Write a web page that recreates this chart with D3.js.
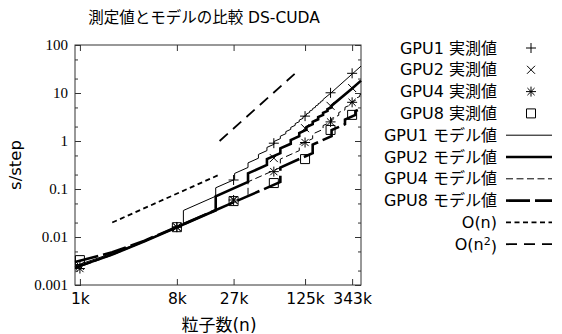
<!DOCTYPE html>
<html><head><meta charset="utf-8">
<script src="https://cdn.jsdelivr.net/npm/d3@7"></script>
<style>
body{margin:0;background:#fff;}
svg{display:block;}
</style></head><body>
<svg id="c" width="562" height="334"></svg>
<script>
// ---- data ----
const titleText = "測定値とモデルの比較 DS-CUDA";
const xLabel = "粒子数(n)";
const yLabel = "s/step";
const xTickValues = [1000, 8000, 27000, 125000, 343000];
const xTickLabels = ["1k", "8k", "27k", "125k", "343k"];
const yTickValues = [0.001, 0.01, 0.1, 1, 10, 100];
const yTickLabels = ["0.001", "0.01", "0.1", "1", "10", "100"];

// measured (n, s/step)
const nMeasured   = [1000, 8000, 27000, 64000, 125000, 216000, 343000];
const gpu1Measured = [0.0026, 0.0162, 0.154, 0.90, 3.3, 10.1, 25.7];
const gpu2Measured = [0.0025, 0.0160, 0.059, 0.44, 1.85, 5.4, 12.7];
const gpu4Measured = [0.0022, 0.0160, 0.059, 0.23, 0.93, 2.5, 6.4];
const gpu8Measured = [0.0033, 0.0160, 0.056, 0.133, 0.42, 1.7, 3.5];

// model curves (n in thousands, s/step); repeated n = step
const gpu1ModelN = [0.9, 2, 4, 8, 9.2, 9.2, 18.4, 18.4, 27.6, 27.6, 36.8, 36.8, 46, 46, 55.2, 55.2, 64.4, 64.4,
  73.6, 73.6, 82.8, 82.8, 92, 92, 101.2, 101.2, 110.4, 110.4, 119.6, 119.6, 128.8, 128.8, 138, 138,
  147.2, 147.2, 156.4, 156.4, 165.6, 165.6, 174.8, 174.8, 184, 184, 216, 343, 415];
const gpu1ModelT = [0.0025, 0.0046, 0.0084, 0.0160, 0.0183, 0.0357, 0.0707, 0.106, 0.158, 0.211, 0.281, 0.350, 0.438, 0.525, 0.630, 0.735, 0.857, 0.980,
  1.12, 1.26, 1.42, 1.57, 1.75, 1.92, 2.12, 2.31, 2.52, 2.73, 2.96, 3.18, 3.43, 3.67, 3.93, 4.20,
  4.48, 4.75, 5.05, 5.35, 5.66, 5.98, 6.31, 6.64, 6.99, 7.34, 9.85, 24.8, 36.3];

const gpu2ModelN = [0.9, 2, 4, 8, 18.4, 18.4, 36.8, 36.8, 55.2, 55.2, 73.6, 73.6, 92, 92, 110.4, 110.4, 128.8, 128.8,
  147.2, 147.2, 165.6, 165.6, 184, 184, 202.4, 202.4, 220.8, 220.8, 343, 415];
const gpu2ModelT = [0.0023, 0.0043, 0.0081, 0.0160, 0.0360, 0.0707, 0.141, 0.211, 0.316, 0.421, 0.560, 0.700, 0.875, 1.05, 1.26, 1.47, 1.72, 1.96,
  2.24, 2.52, 2.83, 3.15, 3.50, 3.85, 4.23, 4.62, 5.03, 5.45, 12.4, 18.1];

const gpu4ModelN = [0.9, 2, 4, 8, 36.8, 36.8, 73.6, 73.6, 110.4, 110.4, 147.2, 147.2, 184, 184, 220.8, 220.8,
  257.6, 257.6, 294.4, 294.4, 331.2, 331.2, 368, 368, 404.8, 404.8, 415];
const gpu4ModelT = [0.0022, 0.0042, 0.0080, 0.0160, 0.0707, 0.141, 0.280, 0.420, 0.630, 0.840, 1.12, 1.40, 1.75, 2.10, 2.52, 2.94,
  3.43, 3.92, 4.47, 5.03, 5.66, 6.29, 6.99, 7.69, 8.46, 9.23, 9.46];

const gpu8ModelN = [0.9, 2, 4, 8, 73.6, 73.6, 147.2, 147.2, 220.8, 220.8, 294.4, 294.4, 368, 368, 415];
const gpu8ModelT = [0.0030, 0.0048, 0.0084, 0.0162, 0.140, 0.280, 0.560, 0.840, 1.26, 1.68, 2.24, 2.80, 3.50, 4.20, 4.73];

const orderN = [2000, 20000];
const orderNT = [0.02, 0.2];
const orderN2 = [20000, 100000];
const orderN2T = [1, 25];

const legendLabels = ["GPU1 実測値", "GPU2 実測値", "GPU4 実測値", "GPU8 実測値",
  "GPU1 モデル値", "GPU2 モデル値", "GPU4 モデル値", "GPU8 モデル値", "O(n)", "O(n²)"];

// ---- drawing ----
const svg = d3.select("#c");
const L = 75, R = 361, T = 45, B = 285;
const x = d3.scaleLog().domain([900, 415000]).range([L, R]);
const y = d3.scaleLog().domain([0.001, 100]).range([B, T]);
const INK = "#000";
const SANS = "'DejaVu Sans','Noto Sans CJK JP',sans-serif";
const SERIF = "'Liberation Serif','Noto Sans CJK JP',serif";

// title
svg.append("text").attr("x", 204).attr("y", 23).attr("text-anchor", "middle")
  .style("font-family", SANS).style("font-size", "15.5px").text(titleText);

// minor y ticks
const minorY = [];
yTickValues.slice(0, -1).forEach(v => { minorY.push(v * 2, v * 5); });

function styleAxis(g) {
  g.select(".domain").remove();
  g.selectAll(".tick line").attr("stroke", "#333").attr("stroke-width", 1);
}
// bottom
svg.append("g").attr("transform", `translate(0,${B})`)
  .call(d3.axisBottom(x).tickValues(xTickValues).tickSize(-6).tickSizeOuter(0)
    .tickFormat((d, i) => xTickLabels[i]).tickPadding(8))
  .call(styleAxis)
  .call(g => g.selectAll("text").style("font-family", SANS).style("font-size", "15.5px").attr("fill", INK));
// top
svg.append("g").attr("transform", `translate(0,${T})`)
  .call(d3.axisTop(x).tickValues(xTickValues).tickSize(-6).tickSizeOuter(0).tickFormat(""))
  .call(styleAxis);
// left
svg.append("g").attr("transform", `translate(${L},0)`)
  .call(d3.axisLeft(y).tickValues(yTickValues).tickSize(-6).tickSizeOuter(0)
    .tickFormat((d, i) => yTickLabels[i]).tickPadding(7))
  .call(styleAxis)
  .call(g => g.selectAll("text").style("font-family", SERIF).style("font-size", "15px").attr("fill", INK));
svg.append("g").attr("transform", `translate(${L},0)`)
  .call(d3.axisLeft(y).tickValues(minorY).tickSize(-3).tickSizeOuter(0).tickFormat(""))
  .call(styleAxis);
// right
svg.append("g").attr("transform", `translate(${R},0)`)
  .call(d3.axisRight(y).tickValues(yTickValues).tickSize(-6).tickSizeOuter(0).tickFormat(""))
  .call(styleAxis);
svg.append("g").attr("transform", `translate(${R},0)`)
  .call(d3.axisRight(y).tickValues(minorY).tickSize(-3).tickSizeOuter(0).tickFormat(""))
  .call(styleAxis);

// frame
svg.append("rect").attr("x", L).attr("y", T).attr("width", R - L).attr("height", B - T)
  .attr("fill", "none").attr("stroke", "#333").attr("stroke-width", 1);

// axis labels
svg.append("text").attr("x", 219).attr("y", 331).attr("text-anchor", "middle")
  .style("font-family", SANS).style("font-size", "17px").text(xLabel);
svg.append("text").attr("transform", "translate(21,165) rotate(-90)").attr("text-anchor", "middle")
  .style("font-family", SANS).style("font-size", "16.5px").text(yLabel);

// lines
const lineK = d3.line().x(d => x(d[0] * 1000)).y(d => y(d[1]));
const line1 = d3.line().x(d => x(d[0])).y(d => y(d[1]));
const styles = [
  {w: 1, dash: null},           // GPU1 model
  {w: 2.6, dash: null},         // GPU2 model
  {w: 1, dash: "7,3.5"},        // GPU4 model
  {w: 2.6, dash: "24,5"},       // GPU8 model
  {w: 1.8, dash: "5,3.5"},      // O(n)
  {w: 1.8, dash: "11,7"}        // O(n^2)
];
const plot = svg.append("g");
const models = [[gpu1ModelN, gpu1ModelT], [gpu2ModelN, gpu2ModelT], [gpu4ModelN, gpu4ModelT], [gpu8ModelN, gpu8ModelT]];
models.forEach((m, i) => {
  plot.append("path").attr("d", lineK(d3.zip(m[0], m[1])))
    .attr("fill", "none").attr("stroke", INK).attr("stroke-width", styles[i].w)
    .attr("stroke-dasharray", styles[i].dash).attr("stroke-linejoin", "miter");
});
plot.append("path").attr("d", line1(d3.zip(orderN, orderNT)))
  .attr("fill", "none").attr("stroke", INK).attr("stroke-width", styles[4].w).attr("stroke-dasharray", styles[4].dash);
plot.append("path").attr("d", line1(d3.zip(orderN2, orderN2T)))
  .attr("fill", "none").attr("stroke", INK).attr("stroke-width", styles[5].w).attr("stroke-dasharray", styles[5].dash);

// markers
const markerPaths = [
  "M-5,0H5M0,-5V5",
  "M-4,-4L4,4M-4,4L4,-4",
  "M-5,0H5M0,-5V5M-3.6,-3.6L3.6,3.6M-3.6,3.6L3.6,-3.6",
  "M-4.5,-4.5H4.5V4.5H-4.5Z"
];
const measured = [gpu1Measured, gpu2Measured, gpu4Measured, gpu8Measured];
measured.forEach((vals, i) => {
  plot.selectAll(null).data(d3.zip(nMeasured, vals)).join("path")
    .attr("transform", d => `translate(${x(d[0])},${y(d[1])})`)
    .attr("d", markerPaths[i]).attr("fill", "none").attr("stroke", INK).attr("stroke-width", 1);
});

// legend
const lg = svg.append("g");
const rowY = i => 48 + i * 21.8;
legendLabels.forEach((lab, i) => {
  const t = lg.append("text").attr("x", 497).attr("y", rowY(i)).attr("dy", "0.35em")
    .attr("text-anchor", "end").style("font-family", SANS).style("font-size", "16px");
  if (i === 9) {
    t.text("O(n");
    t.append("tspan").attr("dy", "-0.45em").style("font-size", "11px").text("2");
    t.append("tspan").attr("dy", "0.45em").text(")");
  } else t.text(lab);
  if (i < 4) {
    lg.append("path").attr("transform", `translate(531,${rowY(i)})`).attr("d", markerPaths[i])
      .attr("fill", "none").attr("stroke", INK).attr("stroke-width", 1);
  } else {
    const s = styles[i - 4];
    lg.append("line").attr("x1", 506).attr("x2", 552).attr("y1", rowY(i)).attr("y2", rowY(i))
      .attr("stroke", INK).attr("stroke-width", s.w).attr("stroke-dasharray", s.dash);
  }
});
</script>
</body></html>
